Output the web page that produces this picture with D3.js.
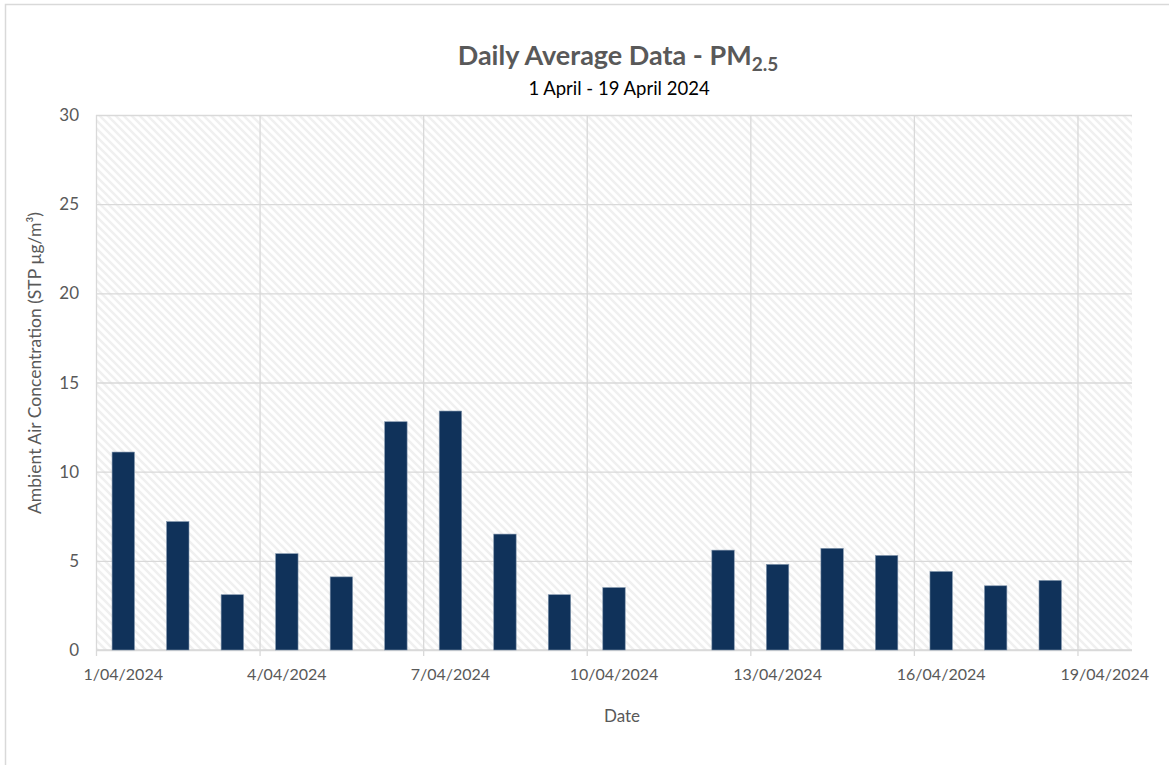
<!DOCTYPE html>
<html>
<head>
<meta charset="utf-8">
<script src="https://cdn.jsdelivr.net/npm/d3@7"></script>
<style>
  body { margin: 0; background: #fff; }
  svg { display: block; }
</style>
</head>
<body>
<div class="chart"></div>
<script>
// PM2.5 daily averages, 1 - 19 April 2024
var dates = ['2024-04-01', '2024-04-02', '2024-04-03', '2024-04-04', '2024-04-05', '2024-04-06',
             '2024-04-07', '2024-04-08', '2024-04-09', '2024-04-10', '2024-04-11', '2024-04-12',
             '2024-04-13', '2024-04-14', '2024-04-15', '2024-04-16', '2024-04-17', '2024-04-18',
             '2024-04-19'];
var pm25 = [11.1, 7.2, 3.1, 5.4, 4.1, 12.8, 13.4, 6.5, 3.1, 3.5, null, 5.6,
            4.8, 5.7, 5.3, 4.4, 3.6, 3.9, null];
var yTicks = [0, 5, 10, 15, 20, 25, 30];

var title = "Daily Average Data - PM";
var subtitle = "1 April - 19 April 2024";
var xTitle = "Date";
var yTitle = "Ambient Air Concentration (STP µg/m³)";

var parse = d3.timeParse('%Y-%m-%d');
var fmt = d3.timeFormat('%-d/%m/%Y');
var font = "Lato, 'Open Sans', sans-serif";
var grey = '#595959';

var W = 1169, H = 765;
var pLeft = 96, pRight = 1132, pTop = 115, pBottom = 650;

var svg = d3.select(".chart")
            .append("svg")
            .attr('width', W)
            .attr('height', H);

// chart border
svg.append('rect')
    .attr('x', 5.5)
    .attr('y', 4.5)
    .attr('width', W + 10)
    .attr('height', H + 10)
    .attr('fill', '#fff')
    .style('stroke', '#d9d9d9')
    .style('stroke-width', 1.5);

// hatch fill for plot area
var pat = svg.append('defs').append('pattern')
    .attr('id', 'hatch')
    .attr('patternUnits', 'userSpaceOnUse')
    .attr('width', 8)
    .attr('height', 8);
pat.append('path')
    .attr('d', 'M-2,-2 L10,10 M-2,6 L2,10 M6,-2 L10,2')
    .style('stroke', '#f0f0f0')
    .style('stroke-width', 2.6);

var first = parse(dates[0]);
var last = d3.timeDay.offset(parse(dates[dates.length - 1]), 1);
var x = d3.scaleTime()
    .domain([first, last])
    .range([pLeft, pRight]);
var y = d3.scaleLinear()
    .domain([0, 30])
    .range([pBottom, pTop]);

var dayW = x(d3.timeDay.offset(first, 1)) - x(first);
var barW = 22.4;

svg.append('rect')
    .attr('x', pLeft)
    .attr('y', pTop)
    .attr('width', pRight - pLeft)
    .attr('height', pBottom - pTop)
    .attr('fill', 'url(#hatch)');

// gridlines
svg.append('g')
    .attr('transform', 'translate(' + pLeft + ',0)')
    .call(d3.axisLeft(y).tickValues(yTicks).tickSize(-(pRight - pLeft)).tickFormat(''))
    .call(g => g.select('.domain').remove())
    .call(g => g.selectAll('line').style('stroke', '#d9d9d9').style('stroke-width', 1.3));

var xTickDates = d3.timeDay.every(3).range(first, last);

svg.append('g')
    .attr('transform', 'translate(0,' + pTop + ')')
    .call(d3.axisBottom(x).tickValues(xTickDates).tickSize(pBottom - pTop + 6).tickFormat(''))
    .call(g => g.select('.domain').remove())
    .call(g => g.selectAll('line').style('stroke', '#d9d9d9').style('stroke-width', 1.3));

// x axis line
svg.append('line')
    .attr('x1', pLeft)
    .attr('x2', pRight)
    .attr('y1', pBottom)
    .attr('y2', pBottom)
    .style('stroke', '#d9d9d9')
    .style('stroke-width', 1.3);

// bars
var rows = dates.map((d, i) => ({ date: parse(d), v: pm25[i] })).filter(d => d.v != null);
svg.append('g').selectAll('rect')
    .data(rows)
    .join('rect')
    .attr('x', d => x(d.date) + dayW / 2 - barW / 2)
    .attr('y', d => y(d.v))
    .attr('width', barW)
    .attr('height', d => y(0) - y(d.v))
    .attr('fill', '#10325a')
    .style('stroke', '#7f93ab')
    .style('stroke-width', 0.6);

// y tick labels
svg.append('g').selectAll('text')
    .data(yTicks)
    .join('text')
    .attr('x', 79)
    .attr('y', d => y(d) + 6)
    .attr('text-anchor', 'end')
    .text(d => d)
    .style('font-size', '17px')
    .attr('font-family', font)
    .attr('fill', grey);

// x tick labels at day centre
svg.append('g').selectAll('text')
    .data(xTickDates)
    .join('text')
    .attr('x', d => x(d) + dayW / 2)
    .attr('y', 680)
    .attr('text-anchor', 'middle')
    .text(d => fmt(d))
    .style('font-size', '16px')
    .attr('font-family', font)
    .attr('fill', grey);

// titles
var t = svg.append('text')
    .attr('x', 618)
    .attr('y', 65)
    .attr('text-anchor', 'middle')
    .attr('font-family', font)
    .attr('font-weight', 'bold')
    .attr('fill', grey)
    .style('font-size', '27px');
t.append('tspan').text(title);
t.append('tspan').attr('dy', 6).style('font-size', '19px').text('2.5');

svg.append('text')
    .attr('x', 619)
    .attr('y', 95)
    .attr('text-anchor', 'middle')
    .text(subtitle)
    .style('font-size', '18.5px')
    .attr('font-family', font)
    .attr('fill', '#000');

svg.append('text')
    .attr('x', 622)
    .attr('y', 722)
    .attr('text-anchor', 'middle')
    .text(xTitle)
    .style('font-size', '17px')
    .attr('font-family', font)
    .attr('fill', grey);

svg.append('text')
    .attr('transform', 'translate(41,363) rotate(-90)')
    .attr('text-anchor', 'middle')
    .text(yTitle)
    .style('font-size', '17.5px')
    .attr('font-family', font)
    .attr('fill', grey);
</script>
</body>
</html>
